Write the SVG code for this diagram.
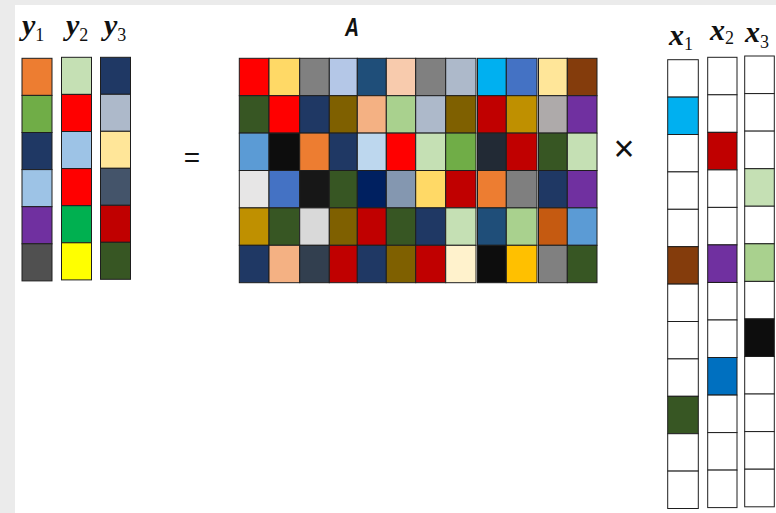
<svg xmlns="http://www.w3.org/2000/svg" width="776" height="513" viewBox="0 0 776 513">
<style>
rect.c{stroke:#1e1e1e;stroke-width:1}
.lbl{font-family:"Liberation Serif","DejaVu Serif",serif;font-style:italic;font-weight:bold;font-size:30px;fill:#111}
.sub{font-size:18px;font-style:normal;font-weight:normal}
.op{font-family:"Liberation Sans","DejaVu Sans",sans-serif;fill:#111}
</style>
<rect x="0" y="0" width="776" height="513" fill="#ebebeb"/>
<rect x="15" y="5" width="761" height="508" fill="#ffffff"/>

<g id="y1">
<text class="lbl" x="22" y="35">y<tspan class="sub" dy="6">1</tspan></text>
<rect class="c" x="22" y="58.3" width="30" height="37.1" fill="#ED7D31"/>
<rect class="c" x="22" y="95.4" width="30" height="37.1" fill="#70AD47"/>
<rect class="c" x="22" y="132.5" width="30" height="37.1" fill="#1F3864"/>
<rect class="c" x="22" y="169.6" width="30" height="37.1" fill="#9DC3E6"/>
<rect class="c" x="22" y="206.7" width="30" height="37.1" fill="#7030A0"/>
<rect class="c" x="22" y="243.8" width="30" height="37.1" fill="#505050"/>
</g>
<g id="y2">
<text class="lbl" x="66" y="35">y<tspan class="sub" dy="6">2</tspan></text>
<rect class="c" x="61.5" y="57.3" width="30" height="37.1" fill="#C5E0B4"/>
<rect class="c" x="61.5" y="94.4" width="30" height="37.1" fill="#FF0000"/>
<rect class="c" x="61.5" y="131.5" width="30" height="37.1" fill="#9DC3E6"/>
<rect class="c" x="61.5" y="168.6" width="30" height="37.1" fill="#FF0000"/>
<rect class="c" x="61.5" y="205.7" width="30" height="37.1" fill="#00B050"/>
<rect class="c" x="61.5" y="242.8" width="30" height="37.1" fill="#FFFF00"/>
</g>
<g id="y3">
<text class="lbl" x="104" y="35">y<tspan class="sub" dy="6">3</tspan></text>
<rect class="c" x="100.5" y="57.3" width="30" height="37" fill="#1F3864"/>
<rect class="c" x="100.5" y="94.3" width="30" height="37" fill="#ADB9CA"/>
<rect class="c" x="100.5" y="131.3" width="30" height="37" fill="#FFE699"/>
<rect class="c" x="100.5" y="168.3" width="30" height="37" fill="#44546A"/>
<rect class="c" x="100.5" y="205.3" width="30" height="37" fill="#C00000"/>
<rect class="c" x="100.5" y="242.3" width="30" height="37" fill="#375623"/>
</g>

<g id="equals">
<text class="op" x="192" y="167" font-size="28" text-anchor="middle">=</text>
</g>

<g id="A">
<text x="352" y="36" font-family="Liberation Sans, DejaVu Sans, sans-serif" font-weight="bold" font-style="italic" font-size="26" text-anchor="middle" textLength="14" lengthAdjust="spacingAndGlyphs" fill="#111">A</text>
<!-- row 1 -->
<rect class="c" x="239.3" y="58.3" width="29.7" height="37.4" fill="#FF0000"/>
<rect class="c" x="269" y="58.3" width="30.7" height="37.4" fill="#FFD966"/>
<rect class="c" x="299.7" y="58.3" width="29.6" height="37.4" fill="#808080"/>
<rect class="c" x="329.3" y="58.3" width="28" height="37.4" fill="#B4C7E7"/>
<rect class="c" x="357.3" y="58.3" width="29" height="37.4" fill="#1F4E79"/>
<rect class="c" x="386.3" y="58.3" width="29.4" height="37.4" fill="#F8CBAD"/>
<rect class="c" x="415.7" y="58.3" width="30" height="37.4" fill="#808080"/>
<rect class="c" x="445.7" y="58.3" width="30.3" height="37.4" fill="#ADB9CA"/>
<rect class="c" x="477.5" y="58.3" width="28.8" height="37.4" fill="#00B0F0"/>
<rect class="c" x="506.3" y="58.3" width="30.7" height="37.4" fill="#4472C4"/>
<rect class="c" x="538.5" y="58.3" width="28.8" height="37.4" fill="#FFE699"/>
<rect class="c" x="567.3" y="58.3" width="29.7" height="37.4" fill="#843C0C"/>
<!-- row 2 -->
<rect class="c" x="239.3" y="95.7" width="29.7" height="37.4" fill="#375623"/>
<rect class="c" x="269" y="95.7" width="30.7" height="37.4" fill="#FF0000"/>
<rect class="c" x="299.7" y="95.7" width="29.6" height="37.4" fill="#1F3864"/>
<rect class="c" x="329.3" y="95.7" width="28" height="37.4" fill="#7F6000"/>
<rect class="c" x="357.3" y="95.7" width="29" height="37.4" fill="#F4B183"/>
<rect class="c" x="386.3" y="95.7" width="29.4" height="37.4" fill="#A9D18E"/>
<rect class="c" x="415.7" y="95.7" width="30" height="37.4" fill="#ADB9CA"/>
<rect class="c" x="445.7" y="95.7" width="30.3" height="37.4" fill="#7F6000"/>
<rect class="c" x="477.5" y="95.7" width="28.8" height="37.4" fill="#C00000"/>
<rect class="c" x="506.3" y="95.7" width="30.7" height="37.4" fill="#BF9000"/>
<rect class="c" x="538.5" y="95.7" width="28.8" height="37.4" fill="#AEAAAA"/>
<rect class="c" x="567.3" y="95.7" width="29.7" height="37.4" fill="#7030A0"/>
<!-- row 3 -->
<rect class="c" x="239.3" y="133.1" width="29.7" height="37.4" fill="#5B9BD5"/>
<rect class="c" x="269" y="133.1" width="30.7" height="37.4" fill="#0D0D0D"/>
<rect class="c" x="299.7" y="133.1" width="29.6" height="37.4" fill="#ED7D31"/>
<rect class="c" x="329.3" y="133.1" width="28" height="37.4" fill="#1F3864"/>
<rect class="c" x="357.3" y="133.1" width="29" height="37.4" fill="#BDD7EE"/>
<rect class="c" x="386.3" y="133.1" width="29.4" height="37.4" fill="#FF0000"/>
<rect class="c" x="415.7" y="133.1" width="30" height="37.4" fill="#C5E0B4"/>
<rect class="c" x="445.7" y="133.1" width="30.3" height="37.4" fill="#70AD47"/>
<rect class="c" x="477.5" y="133.1" width="28.8" height="37.4" fill="#222A35"/>
<rect class="c" x="506.3" y="133.1" width="30.7" height="37.4" fill="#C00000"/>
<rect class="c" x="538.5" y="133.1" width="28.8" height="37.4" fill="#375623"/>
<rect class="c" x="567.3" y="133.1" width="29.7" height="37.4" fill="#C5E0B4"/>
<!-- row 4 -->
<rect class="c" x="239.3" y="170.5" width="29.7" height="37.4" fill="#E7E6E6"/>
<rect class="c" x="269" y="170.5" width="30.7" height="37.4" fill="#4472C4"/>
<rect class="c" x="299.7" y="170.5" width="29.6" height="37.4" fill="#171717"/>
<rect class="c" x="329.3" y="170.5" width="28" height="37.4" fill="#375623"/>
<rect class="c" x="357.3" y="170.5" width="29" height="37.4" fill="#002060"/>
<rect class="c" x="386.3" y="170.5" width="29.4" height="37.4" fill="#8497B0"/>
<rect class="c" x="415.7" y="170.5" width="30" height="37.4" fill="#FFD966"/>
<rect class="c" x="445.7" y="170.5" width="30.3" height="37.4" fill="#C00000"/>
<rect class="c" x="477.5" y="170.5" width="28.8" height="37.4" fill="#ED7D31"/>
<rect class="c" x="506.3" y="170.5" width="30.7" height="37.4" fill="#7F7F7F"/>
<rect class="c" x="538.5" y="170.5" width="28.8" height="37.4" fill="#1F3864"/>
<rect class="c" x="567.3" y="170.5" width="29.7" height="37.4" fill="#7030A0"/>
<!-- row 5 -->
<rect class="c" x="239.3" y="207.9" width="29.7" height="37.4" fill="#BF9000"/>
<rect class="c" x="269" y="207.9" width="30.7" height="37.4" fill="#375623"/>
<rect class="c" x="299.7" y="207.9" width="29.6" height="37.4" fill="#D9D9D9"/>
<rect class="c" x="329.3" y="207.9" width="28" height="37.4" fill="#7F6000"/>
<rect class="c" x="357.3" y="207.9" width="29" height="37.4" fill="#C00000"/>
<rect class="c" x="386.3" y="207.9" width="29.4" height="37.4" fill="#375623"/>
<rect class="c" x="415.7" y="207.9" width="30" height="37.4" fill="#1F3864"/>
<rect class="c" x="445.7" y="207.9" width="30.3" height="37.4" fill="#C5E0B4"/>
<rect class="c" x="477.5" y="207.9" width="28.8" height="37.4" fill="#1F4E79"/>
<rect class="c" x="506.3" y="207.9" width="30.7" height="37.4" fill="#A9D18E"/>
<rect class="c" x="538.5" y="207.9" width="28.8" height="37.4" fill="#C55A11"/>
<rect class="c" x="567.3" y="207.9" width="29.7" height="37.4" fill="#5B9BD5"/>
<!-- row 6 -->
<rect class="c" x="239.3" y="245.3" width="29.7" height="37.4" fill="#1F3864"/>
<rect class="c" x="269" y="245.3" width="30.7" height="37.4" fill="#F4B183"/>
<rect class="c" x="299.7" y="245.3" width="29.6" height="37.4" fill="#323F4F"/>
<rect class="c" x="329.3" y="245.3" width="28" height="37.4" fill="#C00000"/>
<rect class="c" x="357.3" y="245.3" width="29" height="37.4" fill="#1F3864"/>
<rect class="c" x="386.3" y="245.3" width="29.4" height="37.4" fill="#7F6000"/>
<rect class="c" x="415.7" y="245.3" width="30" height="37.4" fill="#C00000"/>
<rect class="c" x="445.7" y="245.3" width="30.3" height="37.4" fill="#FFF2CC"/>
<rect class="c" x="477.5" y="245.3" width="28.8" height="37.4" fill="#0D0D0D"/>
<rect class="c" x="506.3" y="245.3" width="30.7" height="37.4" fill="#FFC000"/>
<rect class="c" x="538.5" y="245.3" width="28.8" height="37.4" fill="#808080"/>
<rect class="c" x="567.3" y="245.3" width="29.7" height="37.4" fill="#375623"/>
</g>

<g id="times">
<text class="op" x="624" y="161" font-size="36" font-weight="300" text-anchor="middle">×</text>
</g>

<g id="x1">
<text class="lbl" x="669" y="45">x<tspan class="sub" dy="5">1</tspan></text>
<rect class="c" x="667.7" y="59.7" width="30.6" height="37.4" fill="#FFFFFF"/>
<rect class="c" x="667.7" y="97.1" width="30.6" height="37.4" fill="#00B0F0"/>
<rect class="c" x="667.7" y="134.5" width="30.6" height="37.4" fill="#FFFFFF"/>
<rect class="c" x="667.7" y="171.9" width="30.6" height="37.4" fill="#FFFFFF"/>
<rect class="c" x="667.7" y="209.3" width="30.6" height="37.4" fill="#FFFFFF"/>
<rect class="c" x="667.7" y="246.7" width="30.6" height="37.4" fill="#843C0C"/>
<rect class="c" x="667.7" y="284.1" width="30.6" height="37.4" fill="#FFFFFF"/>
<rect class="c" x="667.7" y="321.5" width="30.6" height="37.4" fill="#FFFFFF"/>
<rect class="c" x="667.7" y="358.9" width="30.6" height="37.4" fill="#FFFFFF"/>
<rect class="c" x="667.7" y="396.3" width="30.6" height="37.4" fill="#375623"/>
<rect class="c" x="667.7" y="433.7" width="30.6" height="37.4" fill="#FFFFFF"/>
<rect class="c" x="667.7" y="471.1" width="30.6" height="37.4" fill="#FFFFFF"/>
</g>
<g id="x2">
<text class="lbl" x="710" y="40">x<tspan class="sub" dy="4">2</tspan></text>
<rect class="c" x="707.7" y="57.3" width="29.3" height="37.5" fill="#FFFFFF"/>
<rect class="c" x="707.7" y="94.8" width="29.3" height="37.5" fill="#FFFFFF"/>
<rect class="c" x="707.7" y="132.4" width="29.3" height="37.5" fill="#C00000"/>
<rect class="c" x="707.7" y="169.9" width="29.3" height="37.5" fill="#FFFFFF"/>
<rect class="c" x="707.7" y="207.4" width="29.3" height="37.5" fill="#FFFFFF"/>
<rect class="c" x="707.7" y="244.9" width="29.3" height="37.5" fill="#7030A0"/>
<rect class="c" x="707.7" y="282.5" width="29.3" height="37.5" fill="#FFFFFF"/>
<rect class="c" x="707.7" y="320" width="29.3" height="37.5" fill="#FFFFFF"/>
<rect class="c" x="707.7" y="357.5" width="29.3" height="37.5" fill="#0070C0"/>
<rect class="c" x="707.7" y="395.1" width="29.3" height="37.5" fill="#FFFFFF"/>
<rect class="c" x="707.7" y="432.6" width="29.3" height="37.5" fill="#FFFFFF"/>
<rect class="c" x="707.7" y="470.1" width="29.3" height="37.5" fill="#FFFFFF"/>
</g>
<g id="x3">
<text class="lbl" x="745" y="41.5">x<tspan class="sub" dy="6">3</tspan></text>
<rect class="c" x="744.7" y="56" width="29.6" height="37.6" fill="#FFFFFF"/>
<rect class="c" x="744.7" y="93.6" width="29.6" height="37.6" fill="#FFFFFF"/>
<rect class="c" x="744.7" y="131.1" width="29.6" height="37.6" fill="#FFFFFF"/>
<rect class="c" x="744.7" y="168.7" width="29.6" height="37.6" fill="#C5E0B4"/>
<rect class="c" x="744.7" y="206.2" width="29.6" height="37.6" fill="#FFFFFF"/>
<rect class="c" x="744.7" y="243.8" width="29.6" height="37.6" fill="#A9D18E"/>
<rect class="c" x="744.7" y="281.4" width="29.6" height="37.6" fill="#FFFFFF"/>
<rect class="c" x="744.7" y="318.9" width="29.6" height="37.6" fill="#0D0D0D"/>
<rect class="c" x="744.7" y="356.5" width="29.6" height="37.6" fill="#FFFFFF"/>
<rect class="c" x="744.7" y="394" width="29.6" height="37.6" fill="#FFFFFF"/>
<rect class="c" x="744.7" y="431.6" width="29.6" height="37.6" fill="#FFFFFF"/>
<rect class="c" x="744.7" y="469.2" width="29.6" height="37.6" fill="#FFFFFF"/>
</g>
<g id="connectors"/>
</svg>
